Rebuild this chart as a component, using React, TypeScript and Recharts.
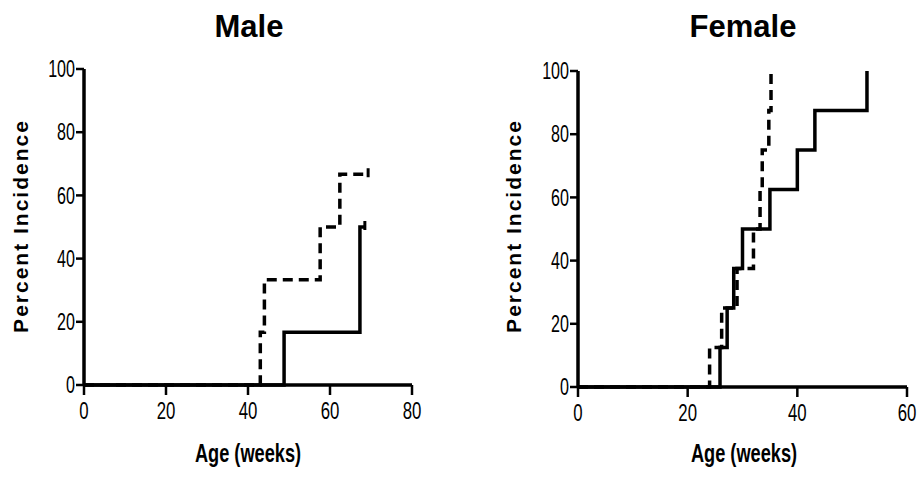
import React from 'react';
import { LineChart, Line, XAxis, YAxis } from 'recharts';

// ---- Data (Age in weeks, Percent incidence) ----
const maleSolidAge = [0, 48.8, 67.3, 68.5];
const maleSolidPct = [0, 16.7, 50, 50];
const maleDashedAge = [0, 43, 44, 57.6, 62.4, 69.3];
const maleDashedPct = [0, 16.7, 33.3, 50, 66.7, 66.7];

const femaleSolidAge = [0, 25.9, 27.2, 28.4, 30, 35, 40, 43.2, 52.7];
const femaleSolidPct = [0, 12.5, 25, 37.5, 50, 62.5, 75, 87.5, 100];
const femaleDashedAge = [0, 24, 26.2, 29, 32, 33.2, 33.6, 34.8, 35.2];
const femaleDashedPct = [0, 12.5, 25, 37.5, 50, 62.5, 75, 87.5, 100];

const maleXTicks = [0, 20, 40, 60, 80];
const femaleXTicks = [0, 20, 40, 60];
const yTicks = [0, 20, 40, 60, 80, 100];

const toPoints = (xs: number[], ys: number[]) => xs.map((x, i) => ({ x, y: ys[i] }));

const SANS = "'Liberation Sans', Arial, Helvetica, sans-serif";
const SX = 0.7;

const censorDot = (n: number, show: boolean) => (props: any) => {
  const { cx, cy, index } = props;
  if (!show || index !== n - 1) return <g key={`d-${index}`} />;
  return (
    <line key={`d-${index}`} x1={cx} x2={cx} y1={cy - 6} y2={cy + 3} stroke="#000" strokeWidth={3} />
  );
};

const XTick = (props: any) => {
  const { x, y, payload } = props;
  return (
    <text
      transform={`translate(${x} ${y}) scale(${SX} 1)`}
      textAnchor="middle"
      dy="0.71em"
      fontFamily={SANS}
      fontSize={24}
      fill="#000"
    >
      {payload.value}
    </text>
  );
};

const YTick = (props: any) => {
  const { x, y, payload } = props;
  return (
    <text
      transform={`translate(${x} ${y}) scale(${SX} 1)`}
      textAnchor="end"
      dy="0.355em"
      fontFamily={SANS}
      fontSize={23}
      fill="#000"
    >
      {payload.value}
    </text>
  );
};

type PanelProps = {
  left: number;
  width: number;
  top: number;
  bottom: number;
  yAxisWidth: number;
  right: number;
  xMax: number;
  xTicks: number[];
  solid: { x: number; y: number }[];
  dashed: { x: number; y: number }[];
  censor: boolean;
};

function Panel(p: PanelProps) {
  return (
    <div style={{ position: 'absolute', left: p.left, top: 0 }}>
      <LineChart
        width={p.width}
        height={478}
        margin={{ top: p.top, right: p.right, bottom: 0, left: 0 }}
      >
        <XAxis
          type="number"
          dataKey="x"
          domain={[0, p.xMax]}
          ticks={p.xTicks}
          allowDataOverflow
          height={478 - p.bottom}
          axisLine={{ stroke: '#000', strokeWidth: 3.5 }}
          tickLine={{ stroke: '#000', strokeWidth: 2.5 }}
          tickSize={10}
          tickMargin={7}
          tick={<XTick />}
        />
        <YAxis
          type="number"
          domain={[0, 100]}
          ticks={yTicks}
          width={p.yAxisWidth}
          axisLine={{ stroke: '#000', strokeWidth: 3.5 }}
          tickLine={{ stroke: '#000', strokeWidth: 2.5 }}
          tickSize={8}
          tickMargin={1}
          tick={<YTick />}
        />
        <Line
          data={p.dashed}
          dataKey="y"
          type="stepAfter"
          stroke="#000"
          strokeWidth={3.5}
          strokeDasharray="10 6"
          dot={censorDot(p.dashed.length, p.censor)}
          activeDot={false}
          isAnimationActive={false}
        />
        <Line
          data={p.solid}
          dataKey="y"
          type="stepAfter"
          stroke="#000"
          strokeWidth={3.5}
          dot={censorDot(p.solid.length, p.censor)}
          activeDot={false}
          isAnimationActive={false}
        />
      </LineChart>
    </div>
  );
}

export default function App() {
  return (
    <div style={{ position: 'absolute', left: 0, top: 0, width: 918, height: 478, background: '#fff' }}>
      <Panel
        left={0}
        width={430}
        top={69}
        bottom={385}
        yAxisWidth={84}
        right={18}
        xMax={80}
        xTicks={maleXTicks}
        solid={toPoints(maleSolidAge, maleSolidPct)}
        dashed={toPoints(maleDashedAge, maleDashedPct)}
        censor={true}
      />
      <Panel
        left={460}
        width={458}
        top={71}
        bottom={387}
        yAxisWidth={118}
        right={11}
        xMax={60}
        xTicks={femaleXTicks}
        solid={toPoints(femaleSolidAge, femaleSolidPct)}
        dashed={toPoints(femaleDashedAge, femaleDashedPct)}
        censor={false}
      />
      <svg
        width={918}
        height={478}
        style={{ position: 'absolute', left: 0, top: 0, pointerEvents: 'none' }}
      >
        <text x={249} y={37} textAnchor="middle" fontFamily={SANS} fontWeight="bold" fontSize={31}>Male</text>
        <text x={743} y={37} textAnchor="middle" fontFamily={SANS} fontWeight="bold" fontSize={31}>Female</text>
        <text x={28} y={226} textAnchor="middle" transform="rotate(-90 28 226)" fontFamily={SANS} fontWeight="bold" fontSize={21} letterSpacing={2}>Percent Incidence</text>
        <text x={521} y={226} textAnchor="middle" transform="rotate(-90 521 226)" fontFamily={SANS} fontWeight="bold" fontSize={21} letterSpacing={2}>Percent Incidence</text>
        <text transform={`translate(248 462) scale(${SX} 1)`} textAnchor="middle" fontFamily={SANS} fontWeight="bold" fontSize={26}>Age (weeks)</text>
        <text transform={`translate(744 462) scale(${SX} 1)`} textAnchor="middle" fontFamily={SANS} fontWeight="bold" fontSize={26}>Age (weeks)</text>
      </svg>
    </div>
  );
}
